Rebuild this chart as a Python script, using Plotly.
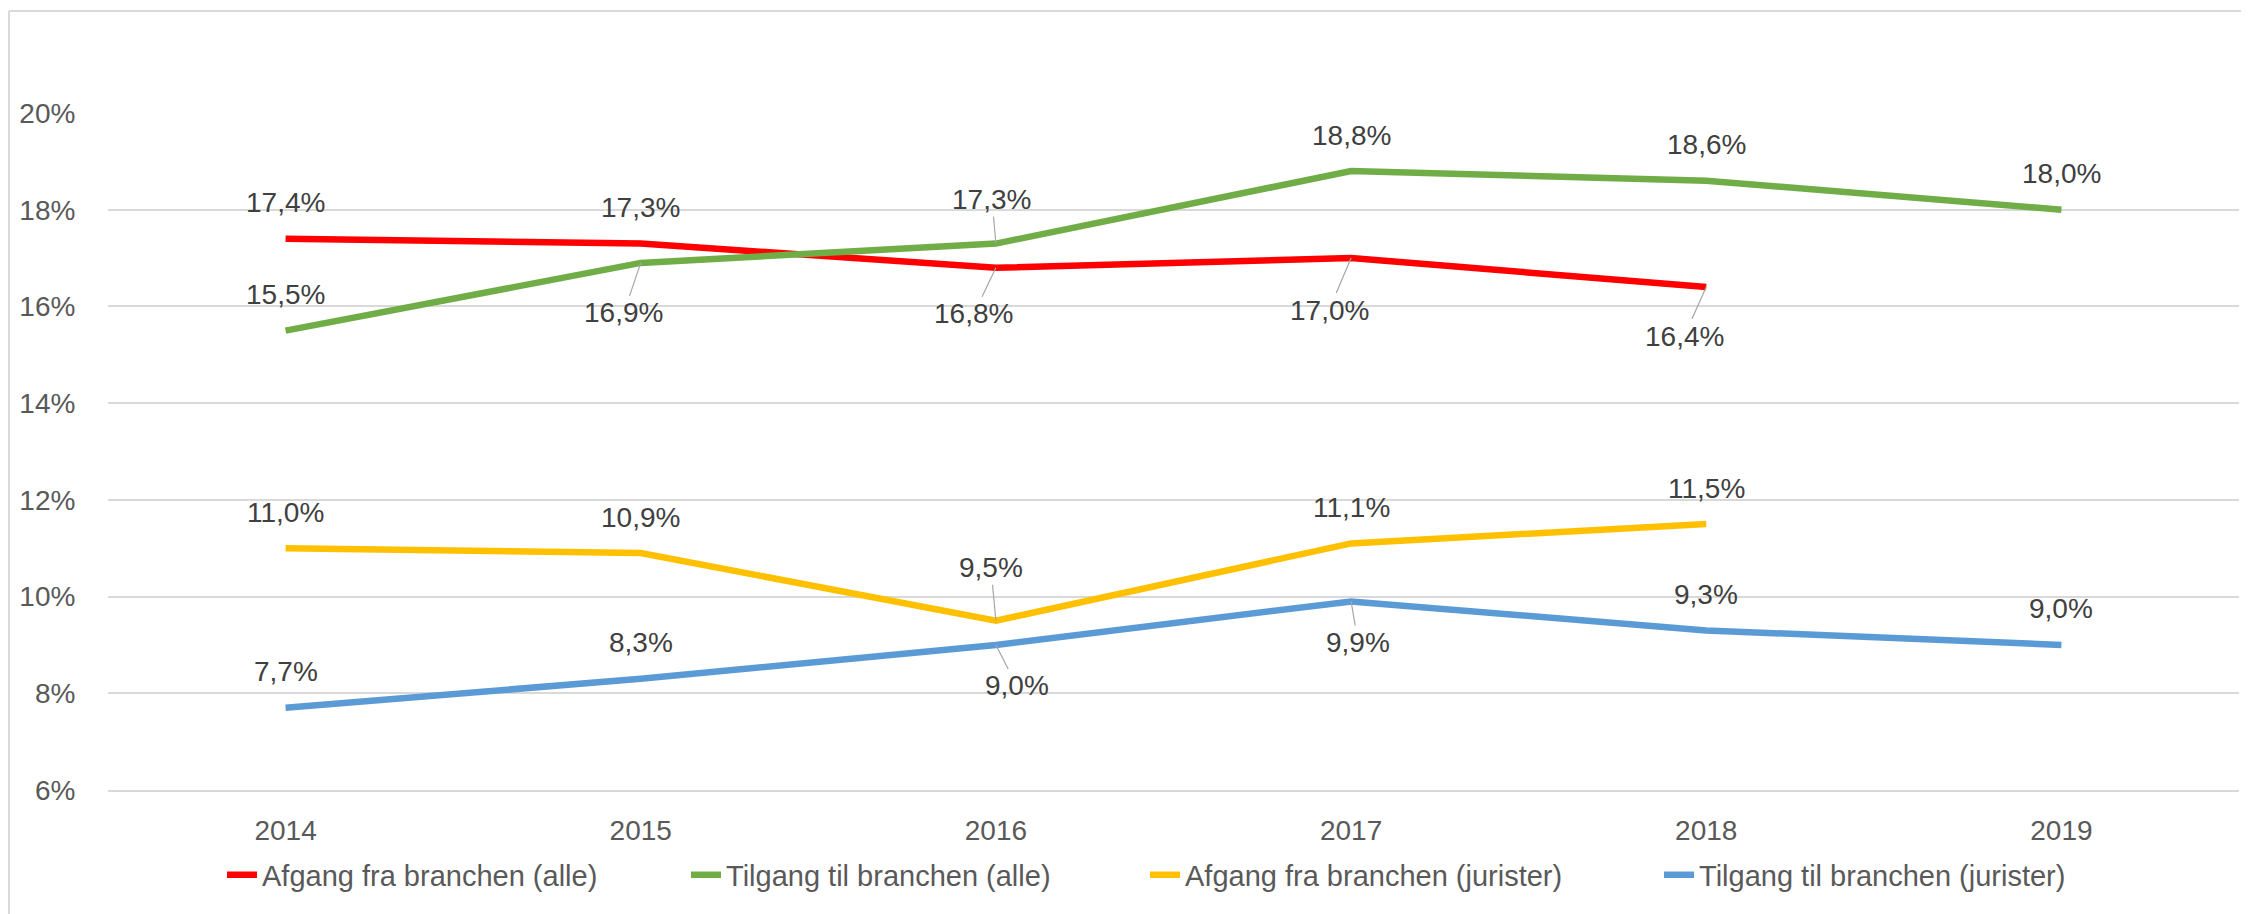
import plotly.graph_objects as go

# ---- data ----
YEARS = ["2014", "2015", "2016", "2017", "2018", "2019"]
AFGANG_ALLE = [17.4, 17.3, 16.8, 17.0, 16.4, None]
TILGANG_ALLE = [15.5, 16.9, 17.3, 18.8, 18.6, 18.0]
AFGANG_JURISTER = [11.0, 10.9, 9.5, 11.1, 11.5, None]
TILGANG_JURISTER = [7.7, 8.3, 9.0, 9.9, 9.3, 9.0]
SERIES_NAMES = [
    "Afgang fra branchen (alle)",
    "Tilgang til branchen (alle)",
    "Afgang fra branchen (jurister)",
    "Tilgang til branchen (jurister)",
]
Y_TICKS = [6, 8, 10, 12, 14, 16, 18, 20]
Y_TICK_LABELS = ["6%", "8%", "10%", "12%", "14%", "16%", "18%", "20%"]

# ---- styles ----
COLORS = ["#FF0000", "#70AD47", "#FFC000", "#5B9BD5"]
LEGEND_WIDTHS = [419, 414, 469, 400]
FONT = "Liberation Sans, Arial, sans-serif"
FS = 28
# label offsets (pixels) for labels with leader lines: (series index, year) -> (dx, dy)
LEADER_OFFSETS = {
    (1, "2015"): (-17, 50),
    (1, "2016"): (-4, -44),
    (0, "2016"): (-22, 46),
    (0, "2017"): (-22, 52),
    (0, "2018"): (-22, 49),
    (2, "2016"): (-5, -53),
    (3, "2016"): (21, 41),
    (3, "2017"): (7, 41),
}

# the page body adds an 8px margin, so the figure is laid out 8px smaller
W, H = 2241, 906
ML, MR, MT, MB = 100, 10, 105, 124
PW, PH = W - ML - MR, H - MT - MB

all_series = [AFGANG_ALLE, TILGANG_ALLE, AFGANG_JURISTER, TILGANG_JURISTER]

fig = go.Figure()
for i, (name, vals) in enumerate(zip(SERIES_NAMES, all_series)):
    fig.add_trace(go.Scatter(
        x=YEARS, y=vals, name=name, mode="lines",
        line=dict(color=COLORS[i], width=6.5),
        connectgaps=False, legendwidth=LEGEND_WIDTHS[i],
        hoverinfo="skip",
    ))

def fmt(v):
    return f"{v:.1f}".replace(".", ",") + "%"

annotations = []
for i, vals in enumerate(all_series):
    for idx, (yr, v) in enumerate(zip(YEARS, vals)):
        if v is None:
            continue
        key = (i, yr)
        common = dict(
            x=idx, y=v, xref="x", yref="y", text=fmt(v),
            font=dict(family=FONT, size=FS, color="#404040"),
        )
        if key in LEADER_OFFSETS:
            dx, dy = LEADER_OFFSETS[key]
            annotations.append(dict(
                common, showarrow=True, ax=dx, ay=dy, axref="pixel", ayref="pixel",
                arrowhead=0, arrowwidth=1.2, arrowcolor="#A6A6A6", standoff=0,
            ))
        else:
            annotations.append(dict(common, showarrow=False, yshift=36))

def px_x(p):
    return (p - ML) / PW

def px_y(p):
    return (H - MB - p) / PH

shapes = [
    dict(type="line", xref="paper", yref="paper", x0=px_x(1), x1=px_x(W + 10),
         y0=px_y(3), y1=px_y(3), line=dict(color="#D9D9D9", width=2)),
    dict(type="line", xref="paper", yref="paper", x0=px_x(1), x1=px_x(1),
         y0=px_y(3), y1=px_y(H + 10), line=dict(color="#D9D9D9", width=2)),
]

fig.update_layout(
    width=W, height=H, autosize=False,
    margin=dict(l=ML, r=MR, t=MT, b=MB, pad=0),
    paper_bgcolor="white", plot_bgcolor="white",
    font=dict(family=FONT, size=FS, color="#595959"),
    showlegend=True,
    legend=dict(
        orientation="h", x=px_x(214), xanchor="left", y=px_y(867), yanchor="middle",
        font=dict(family=FONT, size=29, color="#595959"),
        bgcolor="rgba(0,0,0,0)", itemclick=False, itemdoubleclick=False,
    ),
    xaxis=dict(
        type="category", categoryorder="array", categoryarray=YEARS,
        showgrid=False, zeroline=False, showline=True, linecolor="#D9D9D9", linewidth=2,
        ticks="outside", ticklen=14, tickcolor="rgba(0,0,0,0)",
        tickfont=dict(family=FONT, size=FS, color="#595959"),
        range=[-0.5, len(YEARS) - 0.5],
    ),
    yaxis=dict(
        range=[6, 20], tickmode="array", tickvals=Y_TICKS, ticktext=Y_TICK_LABELS,
        showgrid=True, gridcolor="#D9D9D9", gridwidth=2, zeroline=False,
        showline=False, ticks="outside", ticklen=26, tickcolor="rgba(0,0,0,0)",
        tickfont=dict(family=FONT, size=FS, color="#595959"),
    ),
    annotations=annotations,
    shapes=shapes,
    hovermode=False,
)

fig.write_html("out.html")
